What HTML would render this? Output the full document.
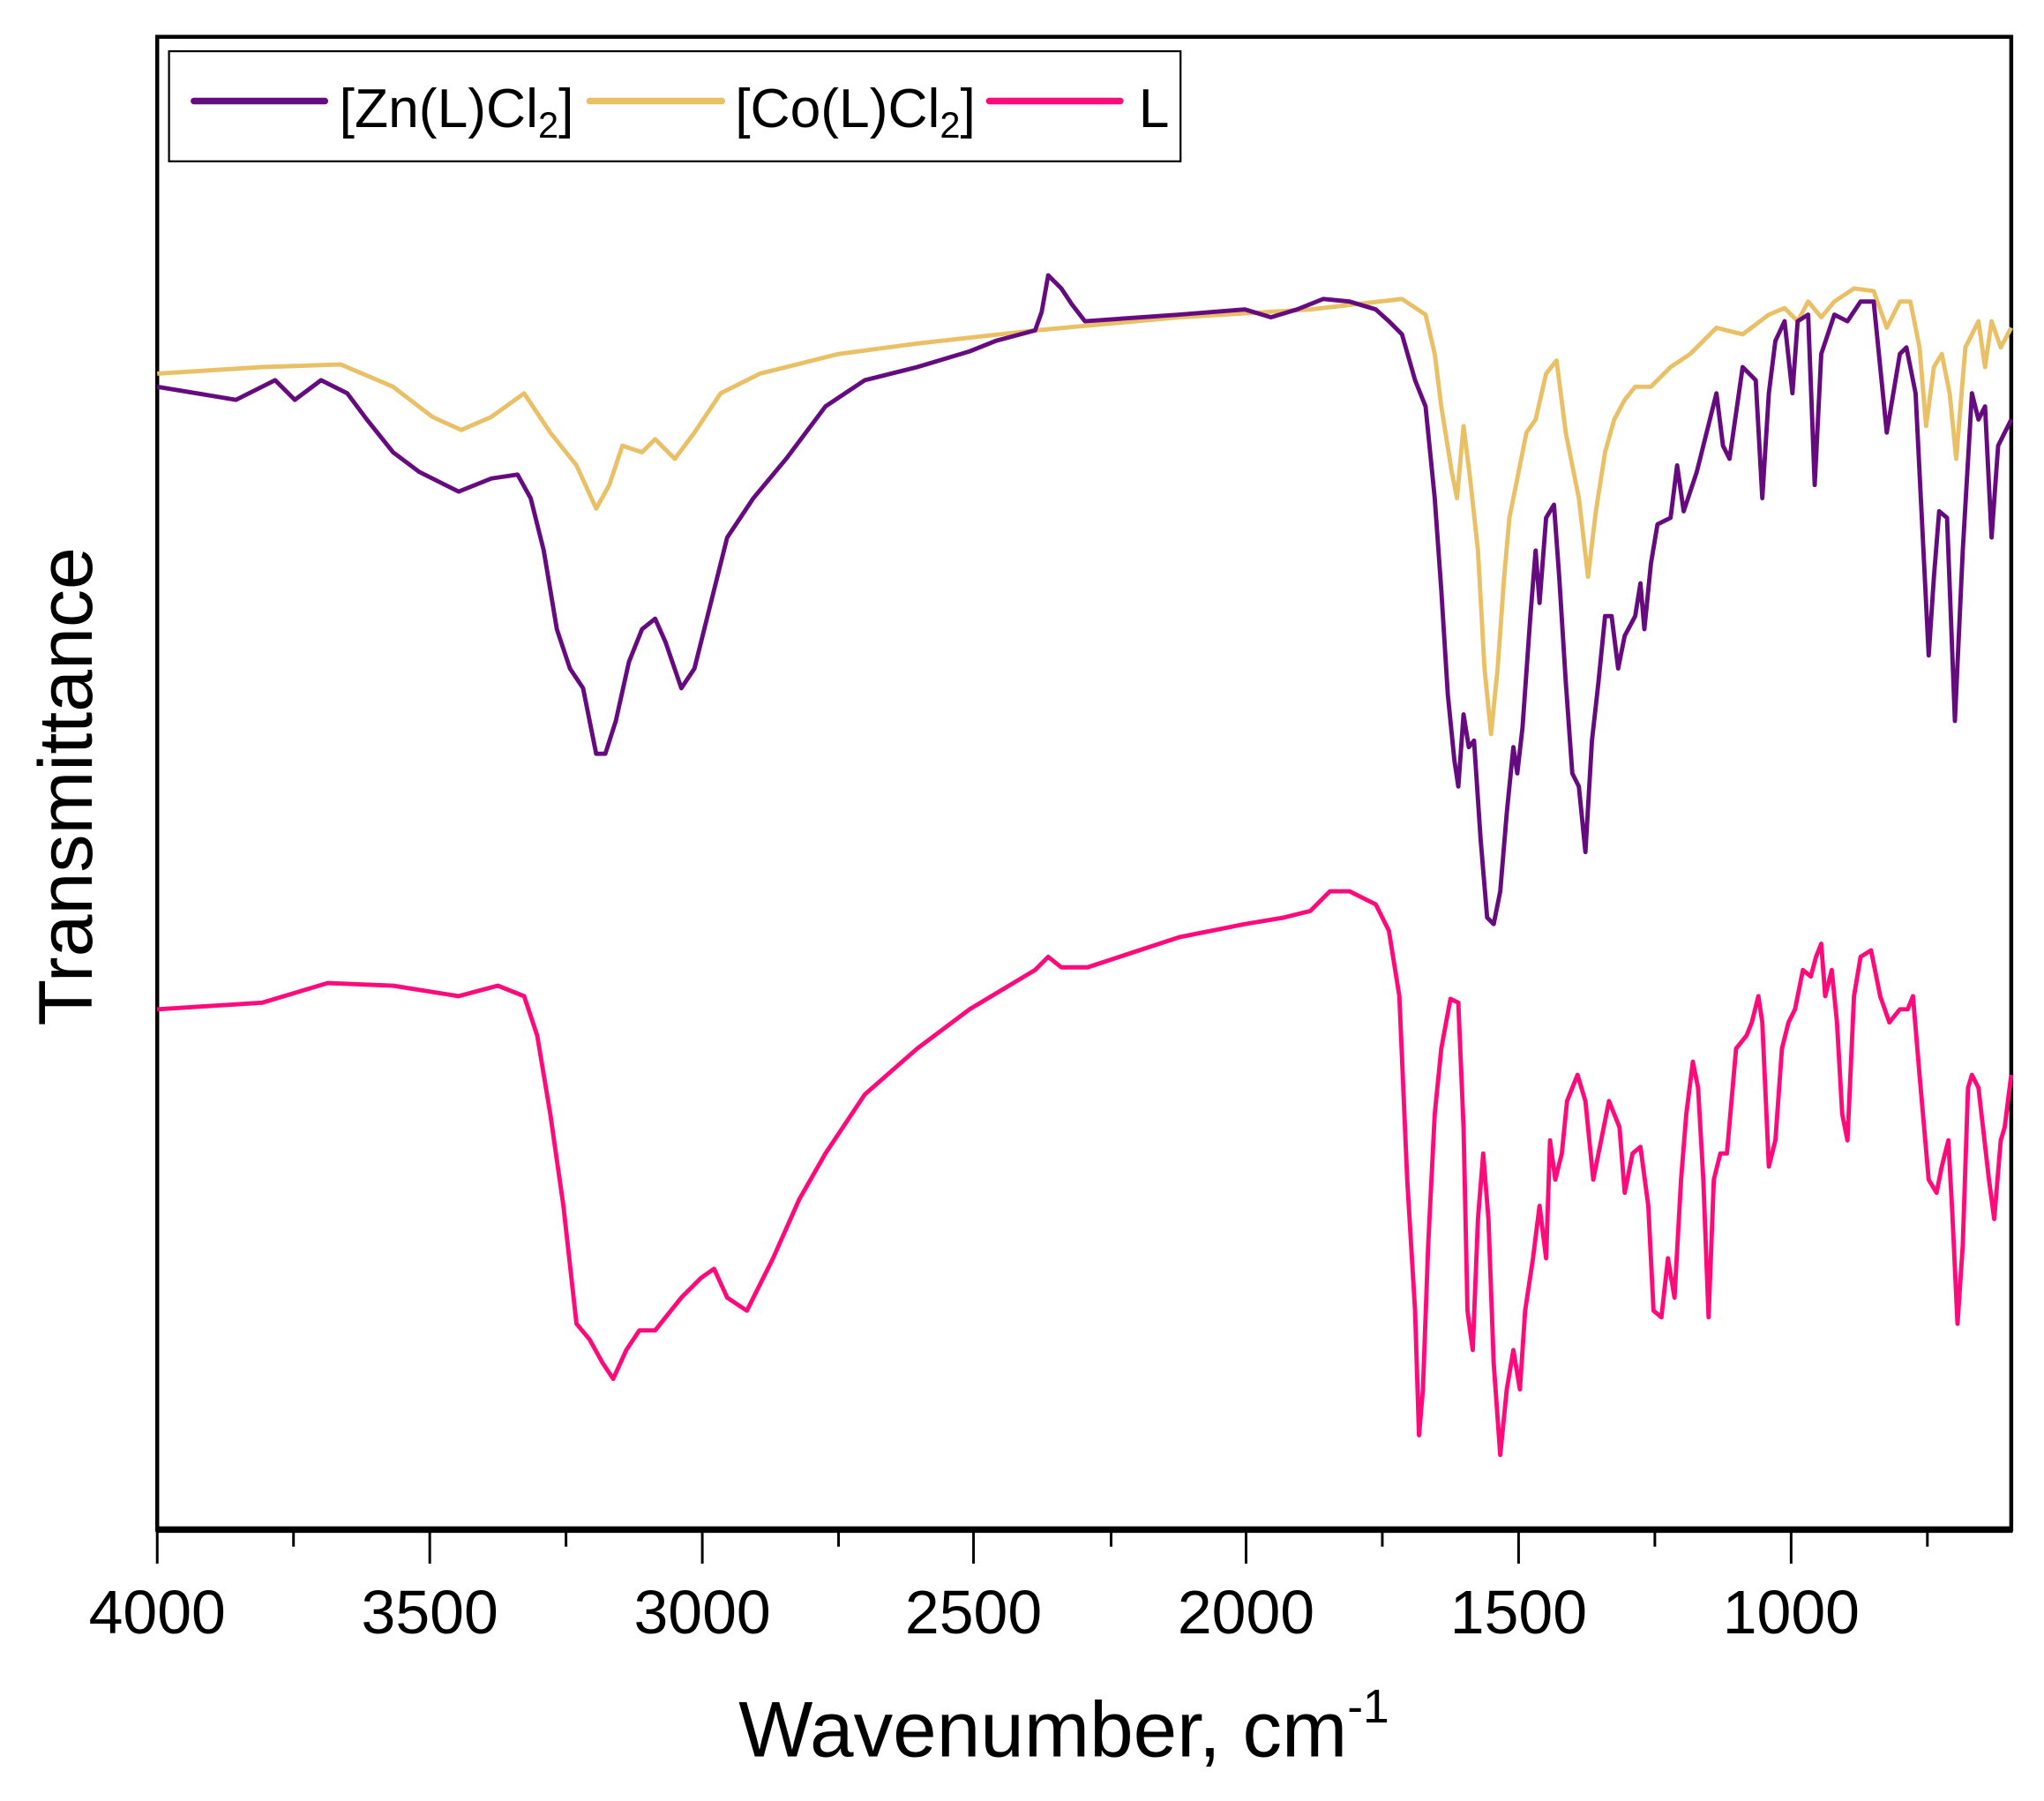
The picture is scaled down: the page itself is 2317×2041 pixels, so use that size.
<!DOCTYPE html>
<html><head><meta charset="utf-8"><style>
html,body{margin:0;padding:0;background:#fff;}
svg{display:block;}
text{font-family:"Liberation Sans",sans-serif;fill:#000;}
</style></head><body>
<svg width="2317" height="2041" viewBox="0 0 1560 1374" xmlns="http://www.w3.org/2000/svg">
<rect width="1560" height="1374" fill="#fff"/>
<rect x="120" y="28" width="1415" height="1139" fill="none" stroke="#000" stroke-width="3"/>
<line x1="119" y1="1167" x2="1536" y2="1167" stroke="#000" stroke-width="5"/>
<g stroke="#000" stroke-width="2">
<line x1="120" y1="1167" x2="120" y2="1193"/><line x1="328" y1="1167" x2="328" y2="1193"/>
<line x1="536" y1="1167" x2="536" y2="1193"/><line x1="743" y1="1167" x2="743" y2="1193"/>
<line x1="951" y1="1167" x2="951" y2="1193"/><line x1="1159" y1="1167" x2="1159" y2="1193"/>
<line x1="1367" y1="1167" x2="1367" y2="1193"/>
<line x1="224" y1="1167" x2="224" y2="1180"/><line x1="432" y1="1167" x2="432" y2="1180"/>
<line x1="640" y1="1167" x2="640" y2="1180"/><line x1="848" y1="1167" x2="848" y2="1180"/>
<line x1="1055" y1="1167" x2="1055" y2="1180"/><line x1="1263" y1="1167" x2="1263" y2="1180"/>
<line x1="1471" y1="1167" x2="1471" y2="1180"/>
</g>
<g font-size="47" text-anchor="middle">
<text x="120" y="1246">4000</text><text x="328" y="1246">3500</text><text x="536" y="1246">3000</text>
<text x="743" y="1246">2500</text><text x="951" y="1246">2000</text><text x="1159" y="1246">1500</text>
<text x="1367" y="1246">1000</text>
</g>
<text x="812" y="1340" font-size="60" text-anchor="middle">Wavenumber, cm<tspan font-size="36" dy="-26">-1</tspan></text>
<text transform="translate(70,600) rotate(-90)" font-size="58" text-anchor="middle">Transmittance</text>
<rect x="129" y="39" width="772" height="84" fill="#fff" stroke="#000" stroke-width="1.5"/>
<line x1="148" y1="77" x2="248" y2="77" stroke="#660a80" stroke-width="5" stroke-linecap="round"/>
<text x="259" y="97" font-size="42">[Zn(L)Cl<tspan font-size="28" dy="8">2</tspan><tspan dy="-8">]</tspan></text>
<line x1="450" y1="77" x2="551" y2="77" stroke="#e9c066" stroke-width="5" stroke-linecap="round"/>
<text x="561" y="97" font-size="42">[Co(L)Cl<tspan font-size="28" dy="8">2</tspan><tspan dy="-8">]</tspan></text>
<line x1="755" y1="77" x2="855" y2="77" stroke="#ff0a7a" stroke-width="5" stroke-linecap="round"/>
<text x="869" y="97" font-size="42">L</text>
<g fill="none" stroke-width="3.3" stroke-linejoin="round">
<polyline stroke="#e9c066" points="120,285 200,280 260,278 300,295 330,318 352,328 375,318 400,300 420,330 440,355 455,388 465,370 475,340 490,345 500,335 515,350 530,330 550,300 580,285 640,270 700,262 790,252 900,242 1000,236 1070,228 1088,240 1095,270 1100,310 1108,360 1112,380 1117,325 1122,365 1128,420 1133,510 1138,560 1143,510 1148,440 1152,395 1158,365 1165,330 1172,320 1180,285 1188,275 1195,330 1205,380 1212,440 1218,390 1225,345 1232,320 1240,305 1248,295 1260,295 1275,280 1290,270 1310,250 1330,255 1350,240 1362,235 1372,245 1380,230 1390,242 1400,230 1415,220 1430,222 1440,250 1450,230 1458,230 1465,265 1470,325 1476,280 1482,270 1488,300 1493,350 1500,265 1510,245 1515,280 1520,245 1527,265 1535,250"/>
<polyline stroke="#660a80" points="120,295 150,300 180,305 210,290 225,305 245,290 265,300 280,320 300,345 320,360 350,375 375,365 395,362 405,380 415,420 425,480 435,510 445,525 455,575 462,575 470,550 480,505 490,480 500,472 508,490 520,525 530,510 540,470 555,410 575,380 600,350 630,310 660,290 700,280 740,268 760,260 790,252 795,238 800,210 810,220 818,232 828,245 900,240 950,236 970,242 990,236 1010,228 1030,230 1050,236 1060,245 1070,255 1080,290 1088,310 1095,380 1100,450 1105,530 1110,580 1113,600 1117,545 1121,570 1125,565 1130,640 1135,700 1140,705 1145,680 1150,620 1155,570 1158,590 1162,555 1168,470 1172,420 1175,460 1180,395 1186,385 1190,440 1195,520 1200,590 1205,600 1210,650 1215,565 1220,520 1225,470 1230,470 1235,510 1240,485 1248,470 1252,445 1255,480 1260,430 1265,400 1275,395 1280,355 1285,390 1295,360 1300,340 1310,300 1315,340 1320,350 1330,280 1340,290 1345,380 1350,300 1355,260 1362,245 1368,300 1372,245 1380,240 1385,370 1390,270 1400,240 1410,245 1420,230 1430,230 1440,330 1450,270 1455,265 1462,300 1468,420 1472,500 1476,440 1480,390 1486,395 1492,550 1498,420 1505,300 1510,320 1515,310 1520,410 1525,340 1535,320"/>
<polyline stroke="#ff0a7a" points="120,770 200,765 250,750 300,752 350,760 380,752 400,760 410,790 420,850 430,920 440,1010 450,1022 460,1040 468,1052 478,1030 488,1015 500,1015 520,990 535,975 545,968 555,990 570,1000 590,960 610,915 630,880 660,835 700,800 740,770 790,740 800,730 810,738 830,738 900,715 950,705 980,700 1000,695 1015,680 1030,680 1050,690 1060,710 1068,760 1074,900 1080,1000 1083,1095 1086,1060 1090,950 1095,850 1100,800 1107,762 1113,765 1117,860 1120,1000 1124,1030 1128,930 1132,880 1136,930 1140,1040 1145,1110 1150,1060 1155,1030 1160,1060 1164,1000 1170,960 1175,920 1180,960 1183,870 1187,900 1192,880 1196,840 1204,820 1210,840 1216,900 1220,880 1228,840 1236,860 1240,910 1246,880 1252,875 1258,920 1262,1000 1268,1005 1273,960 1278,990 1283,900 1287,850 1292,810 1296,830 1300,900 1304,1005 1308,900 1313,880 1318,880 1325,800 1333,790 1337,780 1342,760 1345,780 1350,890 1355,870 1360,800 1365,780 1370,770 1376,740 1382,745 1386,730 1390,720 1393,760 1398,740 1402,780 1406,850 1410,870 1415,760 1420,730 1428,725 1435,760 1442,780 1450,770 1456,770 1460,760 1465,820 1472,900 1478,910 1482,890 1487,870 1490,925 1494,1010 1498,950 1502,830 1505,820 1510,830 1518,900 1522,930 1527,870 1530,860 1535,820"/>
</g>
</svg>
</body></html>
